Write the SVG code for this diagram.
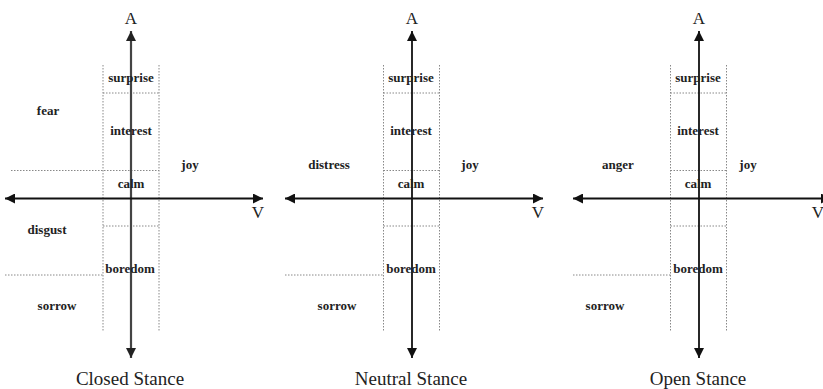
<svg xmlns="http://www.w3.org/2000/svg" width="823" height="389" viewBox="0 0 823 389">
<defs>
<marker id="ah" markerUnits="userSpaceOnUse" markerWidth="10" markerHeight="10" viewBox="0 0 10 10" refX="10" refY="5" orient="auto-start-reverse">
<path d="M0,0 L10,5 L0,10 z" fill="#111"/>
</marker>
<marker id="ahg" markerUnits="userSpaceOnUse" markerWidth="10" markerHeight="10" viewBox="0 0 10 10" refX="10" refY="5" orient="auto-start-reverse">
<path d="M0,0 L10,5 L0,10 z" fill="#222"/>
</marker>
</defs>
<style>
.dot{stroke:#888;stroke-width:1;stroke-dasharray:1.5,1.5;fill:none}
.ax{stroke:#111;stroke-width:1.8;fill:none}
.axg{stroke:#444;stroke-width:2.2;fill:none}
.lb{font-family:"Liberation Serif",serif;font-weight:bold;font-size:13px;fill:#222;text-anchor:middle}
.ttl{font-family:"Liberation Serif",serif;font-size:19px;fill:#222;text-anchor:middle}
.axl{font-family:"Liberation Serif",serif;font-size:17px;fill:#222;text-anchor:middle}
</style>
<rect width="823" height="389" fill="#fff"/>

<g id="grid">
<g id="grid-closed">
<line class="dot" x1="103" y1="65" x2="103" y2="332"/>
<line class="dot" x1="159" y1="65" x2="159" y2="332"/>
<line class="dot" x1="103" y1="93" x2="159" y2="93"/>
<line class="dot" x1="11" y1="170.5" x2="159" y2="170.5"/>
<line class="dot" x1="103" y1="226" x2="159" y2="226"/>
<line class="dot" x1="5" y1="275" x2="103" y2="275"/>
</g>
<g id="grid-neutral">
<line class="dot" x1="383.5" y1="65" x2="383.5" y2="332"/>
<line class="dot" x1="439.5" y1="65" x2="439.5" y2="332"/>
<line class="dot" x1="383.5" y1="93" x2="439.5" y2="93"/>
<line class="dot" x1="383.5" y1="170.5" x2="439.5" y2="170.5"/>
<line class="dot" x1="383.5" y1="226" x2="439.5" y2="226"/>
<line class="dot" x1="285" y1="275" x2="383.5" y2="275"/>
</g>
<g id="grid-open">
<line class="dot" x1="670.5" y1="65" x2="670.5" y2="332"/>
<line class="dot" x1="726.5" y1="65" x2="726.5" y2="332"/>
<line class="dot" x1="670.5" y1="93" x2="726.5" y2="93"/>
<line class="dot" x1="670.5" y1="170.5" x2="726.5" y2="170.5"/>
<line class="dot" x1="670.5" y1="226" x2="726.5" y2="226"/>
<line class="dot" x1="573" y1="275" x2="670.5" y2="275"/>
</g>
</g>

<g id="connectors">
<line class="axg" x1="131" y1="31" x2="131" y2="358" marker-start="url(#ahg)" marker-end="url(#ahg)"/>
<line class="ax" x1="5" y1="198.5" x2="263" y2="198.5" marker-start="url(#ah)" marker-end="url(#ah)"/>
<line class="ax" x1="412" y1="31" x2="412" y2="358" marker-start="url(#ah)" marker-end="url(#ah)"/>
<line class="ax" x1="285" y1="198.5" x2="543" y2="198.5" marker-start="url(#ah)" marker-end="url(#ah)"/>
<line class="ax" x1="699" y1="31" x2="699" y2="358" marker-start="url(#ah)" marker-end="url(#ah)"/>
<line class="ax" x1="573" y1="198.5" x2="831" y2="198.5" marker-start="url(#ah)" marker-end="url(#ah)"/>
</g>

<g id="panel-closed">
<text class="axl" x="131" y="24">A</text>
<text class="axl" x="258" y="218">V</text>
<g id="c-surprise"><text class="lb" x="131" y="82">surprise</text></g>
<g id="c-fear"><text class="lb" x="48" y="115">fear</text></g>
<g id="c-interest"><text class="lb" x="131" y="135">interest</text></g>
<g id="c-joy"><text class="lb" x="190" y="169">joy</text></g>
<g id="c-calm"><text class="lb" x="131" y="188">calm</text></g>
<g id="c-disgust"><text class="lb" x="47" y="234">disgust</text></g>
<g id="c-boredom"><text class="lb" x="130" y="273">boredom</text></g>
<g id="c-sorrow"><text class="lb" x="57" y="310">sorrow</text></g>
<text class="ttl" x="130" y="385">Closed Stance</text>
</g>

<g id="panel-neutral">
<text class="axl" x="412" y="24">A</text>
<text class="axl" x="538" y="218">V</text>
<g id="n-surprise"><text class="lb" x="411" y="82">surprise</text></g>
<g id="n-interest"><text class="lb" x="411" y="135">interest</text></g>
<g id="n-distress"><text class="lb" x="329" y="169">distress</text></g>
<g id="n-joy"><text class="lb" x="470" y="169">joy</text></g>
<g id="n-calm"><text class="lb" x="411" y="188">calm</text></g>
<g id="n-boredom"><text class="lb" x="411" y="273">boredom</text></g>
<g id="n-sorrow"><text class="lb" x="337" y="310">sorrow</text></g>
<text class="ttl" x="411" y="385">Neutral Stance</text>
</g>

<g id="panel-open">
<text class="axl" x="699" y="24">A</text>
<text class="axl" x="818" y="218">V</text>
<g id="o-surprise"><text class="lb" x="698" y="82">surprise</text></g>
<g id="o-interest"><text class="lb" x="698" y="135">interest</text></g>
<g id="o-anger"><text class="lb" x="618" y="169">anger</text></g>
<g id="o-joy"><text class="lb" x="748" y="169">joy</text></g>
<g id="o-calm"><text class="lb" x="698" y="188">calm</text></g>
<g id="o-boredom"><text class="lb" x="698" y="273">boredom</text></g>
<g id="o-sorrow"><text class="lb" x="605" y="310">sorrow</text></g>
<text class="ttl" x="698" y="385">Open Stance</text>
</g>
</svg>
